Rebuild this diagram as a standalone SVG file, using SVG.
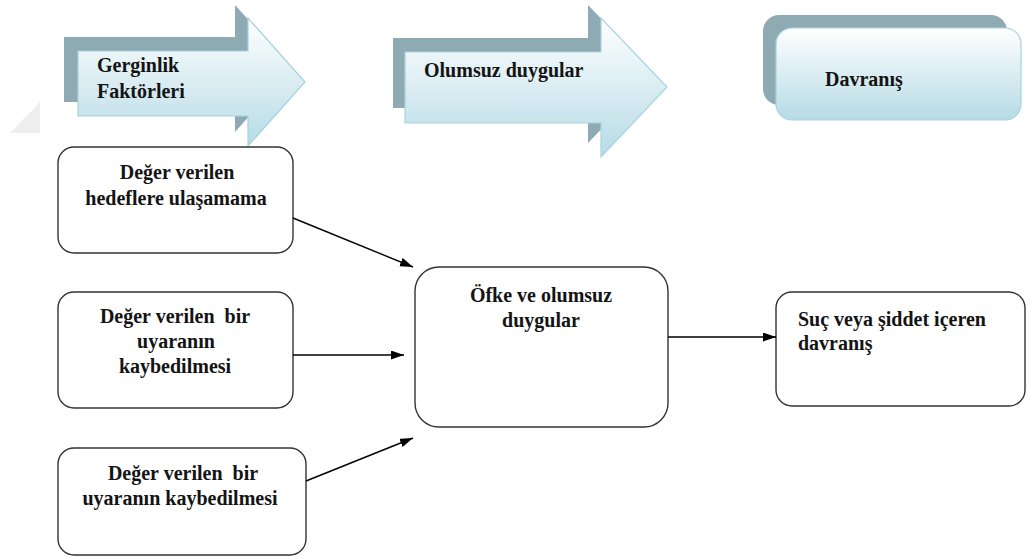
<svg xmlns="http://www.w3.org/2000/svg" width="1027" height="557" viewBox="0 0 1027 557">
<defs>
<linearGradient id="lg" x1="0" y1="0" x2="0" y2="1">
<stop offset="0" stop-color="#ffffff"/>
<stop offset="1" stop-color="#b6dbe5"/>
</linearGradient>
<marker id="ah" markerUnits="userSpaceOnUse" markerWidth="14" markerHeight="10" refX="13" refY="4.5" orient="auto">
<path d="M0,0 L13,4.5 L0,9 z" fill="#000"/>
</marker>
</defs>
<style>
.sh{fill:#8eaab3;}
.fr{fill:url(#lg);stroke:#a6d3df;stroke-width:1.2;}
.box{fill:#fff;stroke:#333;stroke-width:1.4;}
.t{font-weight:bold;font-size:20px;fill:#141414;}
.c{text-anchor:middle;}
.ln{stroke:#000;stroke-width:1.4;fill:none;marker-end:url(#ah);}
</style>
<rect width="1027" height="557" fill="#fff"/>
<polygon points="10,133 40,102 40,133" fill="#eeeeee"/>

<g font-family="'Liberation Serif', 'DejaVu Serif', serif">
<g id="arrow1">
<path class="sh" d="M64,37 L235,37 L235,5 L292,68 L235,132 L235,102 L64,102 Z"/>
<path class="fr" d="M78,51 L248,51 L248,18 L305,82 L248,146 L248,116 L78,116 Z"/>
<text class="t" x="97" y="72">Gerginlik</text>
<text class="t" x="97" y="98">Faktörleri</text>
</g>
<g id="arrow2">
<path class="sh" d="M393,38 L588,38 L588,5 L654,74 L588,143 L588,108 L393,108 Z"/>
<path class="fr" d="M405,52 L601,52 L601,18 L667,87 L601,157 L601,123 L405,123 Z"/>
<text class="t" x="424" y="77">Olumsuz duygular</text>
</g>
<g id="davranis-header">
<rect class="sh" x="763" y="15" width="244" height="90" rx="16"/>
<rect class="fr" x="776" y="28" width="245" height="92" rx="16"/>
<text class="t" x="825" y="86">Davranış</text>
</g>

<g id="box1">
<rect class="box" x="58" y="147" width="235" height="106" rx="16"/>
<text class="t c" x="177" y="179">Değer verilen</text>
<text class="t c" x="176" y="205">hedeflere ulaşamama</text>
</g>
<g id="box2">
<rect class="box" x="58" y="292" width="235" height="116" rx="16"/>
<text class="t c" x="175" y="323" xml:space="preserve">Değer verilen  bir</text>
<text class="t c" x="176" y="348">uyaranın</text>
<text class="t c" x="175" y="373">kaybedilmesi</text>
</g>
<g id="box3">
<rect class="box" x="58" y="448" width="248" height="107" rx="16"/>
<text class="t c" x="183" y="480" xml:space="preserve">Değer verilen  bir</text>
<text class="t c" x="180" y="505">uyaranın kaybedilmesi</text>
</g>
<g id="center">
<rect class="box" x="415" y="267" width="253" height="160" rx="24"/>
<text class="t c" x="541" y="302">Öfke ve olumsuz</text>
<text class="t c" x="541" y="327">duygular</text>
</g>
<g id="result">
<rect class="box" x="776" y="292" width="249" height="114" rx="16"/>
<text class="t" x="798" y="326">Suç veya şiddet içeren</text>
<text class="t" x="798" y="350">davranış</text>
</g>
</g>

<g id="connectors">
<line class="ln" x1="293" y1="218" x2="413" y2="267"/>
<line class="ln" x1="293" y1="355" x2="404" y2="355"/>
<line class="ln" x1="306" y1="481" x2="413" y2="438"/>
<line class="ln" x1="668" y1="337" x2="776" y2="337"/>
</g>
</svg>
